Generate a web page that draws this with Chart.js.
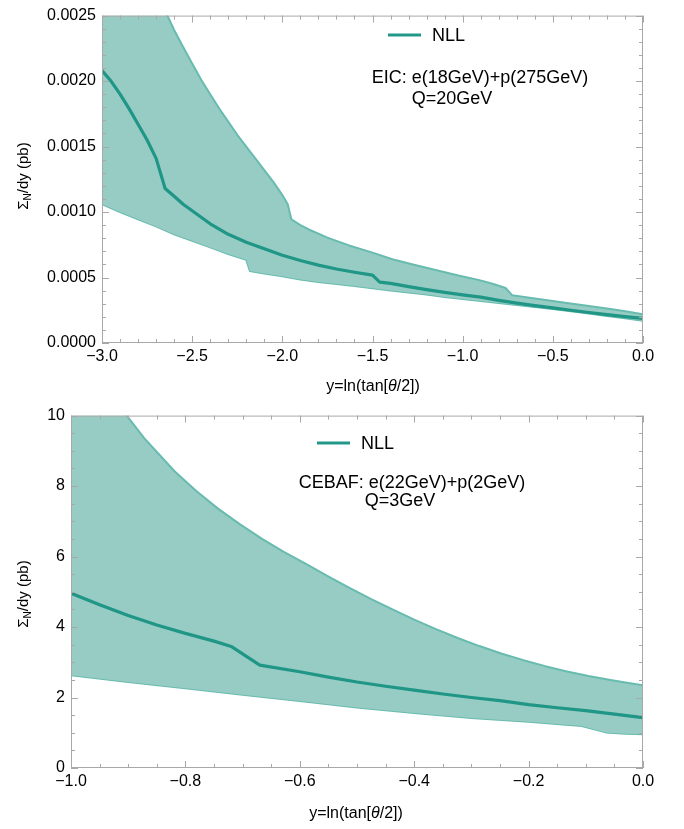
<!DOCTYPE html>
<html><head><meta charset="utf-8">
<script src="https://cdn.jsdelivr.net/npm/chart.js@4.4.0/dist/chart.umd.min.js"></script>
<style>
html,body{margin:0;padding:0;background:#fff;width:684px;height:829px;overflow:hidden;font-family:"Liberation Sans",Arial,sans-serif;color:#000;}
.wrap{position:absolute;left:0;width:684px;}
canvas{display:block;}
.ytitle{position:absolute;font-size:15px;transform:translate(-50%,-50%) rotate(-90deg);white-space:nowrap;}
.ytitle sub{font-size:10px;vertical-align:-3px;}
.xtitle{position:absolute;font-size:16px;transform:translate(-50%,-50%);white-space:nowrap;}
.leg{position:absolute;font-size:18px;display:flex;align-items:center;transform:translateY(-50%);white-space:nowrap;}
.leg .ln{display:inline-block;width:33px;height:3px;background:#22988a;margin-right:11px;}
.ann{position:absolute;font-size:18px;transform:translate(-50%,-50%);white-space:nowrap;}
</style></head>
<body>
<div class="wrap" style="top:0;height:400px"><canvas id="c1" width="684" height="400"></canvas></div>
<div class="wrap" style="top:400px;height:429px"><canvas id="c2" width="684" height="429"></canvas></div>

<div class="ytitle" style="left:23px;top:176px">Σ<sub>N</sub>/dy (pb)</div>
<div class="xtitle" style="left:373px;top:386px">y=ln(tan[<i>θ</i>/2])</div>
<div class="leg" style="left:388px;top:35px"><span class="ln"></span>NLL</div>
<div class="ann" style="left:480px;top:77px">EIC: e(18GeV)+p(275GeV)</div>
<div class="ann" style="left:452px;top:98px">Q=20GeV</div>

<div class="ytitle" style="left:23px;top:594px">Σ<sub>N</sub>/dy (pb)</div>
<div class="xtitle" style="left:356px;top:813px">y=ln(tan[<i>θ</i>/2])</div>
<div class="leg" style="left:317px;top:443px"><span class="ln"></span>NLL</div>
<div class="ann" style="left:412px;top:482px">CEBAF: e(22GeV)+p(2GeV)</div>
<div class="ann" style="left:400px;top:500px">Q=3GeV</div>

<script>
// ---------- Top panel (EIC) ----------
const eicCentralX = [-3.0, -2.95, -2.9, -2.85, -2.8, -2.75, -2.7, -2.65, -2.6, -2.55, -2.5, -2.45, -2.4, -2.35, -2.3, -2.25, -2.2, -2.1, -2.0, -1.9, -1.8, -1.7, -1.6, -1.5, -1.46, -1.4, -1.3, -1.2, -1.1, -1.0, -0.9, -0.8, -0.7, -0.6, -0.5, -0.4, -0.3, -0.2, -0.1, 0.0];
const eicCentralY = [0.00208, 0.00200, 0.00190, 0.00179, 0.00167, 0.00155, 0.00141, 0.00118, 0.00112, 0.00106, 0.00101, 0.00096, 0.00091, 0.00087, 0.00083, 0.0008, 0.00077, 0.00072, 0.00067, 0.00063, 0.000595, 0.000565, 0.00054, 0.000518, 0.000465, 0.000455, 0.00043, 0.000408, 0.000387, 0.000368, 0.00035, 0.000326, 0.000305, 0.000285, 0.000268, 0.00025, 0.000233, 0.000217, 0.000202, 0.000188];
const eicUpperX = [-3.0, -2.9, -2.8, -2.7, -2.637, -2.6, -2.55, -2.5, -2.45, -2.4, -2.35, -2.3, -2.25, -2.2, -2.15, -2.1, -2.05, -2.0, -1.97, -1.95, -1.9, -1.85, -1.8, -1.75, -1.7, -1.63, -1.5, -1.39, -1.27, -1.15, -1.03, -0.907, -0.83, -0.762, -0.726, -0.6, -0.5, -0.423, -0.3, -0.18, -0.09, 0.0];
const eicUpperY = [0.0041, 0.0036, 0.0032, 0.00275, 0.0025, 0.00239, 0.00226, 0.002135, 0.00201, 0.0019, 0.00179, 0.00169, 0.00159, 0.0015, 0.00141, 0.00132, 0.00123, 0.00113, 0.00106, 0.000945, 0.0009, 0.000865, 0.000835, 0.000805, 0.00078, 0.000745, 0.00069, 0.00064, 0.000597, 0.000558, 0.000518, 0.00048, 0.00045, 0.00042, 0.000365, 0.00034, 0.00032, 0.000306, 0.000283, 0.00026, 0.00024, 0.00022];
const eicLowerX = [-3.0, -2.9, -2.8, -2.7, -2.6, -2.5, -2.4, -2.3, -2.2, -2.18, -2.1, -2.0, -1.9, -1.8, -1.7, -1.6, -1.5, -1.4, -1.3, -1.2, -1.1, -1.0, -0.9, -0.8, -0.7, -0.6, -0.5, -0.4, -0.3, -0.2, -0.1, 0.0];
const eicLowerY = [0.00106, 0.00100, 0.000945, 0.00089, 0.00083, 0.00078, 0.00073, 0.00068, 0.000635, 0.00055, 0.00053, 0.00051, 0.000485, 0.000465, 0.00045, 0.000435, 0.000418, 0.0004, 0.000385, 0.00037, 0.000352, 0.000336, 0.00032, 0.000305, 0.00029, 0.000275, 0.00026, 0.000242, 0.000225, 0.000207, 0.000189, 0.00017];
const eicXTicks = [-3.0, -2.5, -2.0, -1.5, -1.0, -0.5, 0.0];
const eicYTicks = [0.0, 0.0005, 0.0010, 0.0015, 0.0020, 0.0025];

// ---------- Bottom panel (CEBAF) ----------
const cebCentralX = [-1.0, -0.95, -0.9, -0.85, -0.8, -0.75, -0.72, -0.67, -0.6, -0.55, -0.5, -0.45, -0.4, -0.35, -0.3, -0.25, -0.2, -0.15, -0.1, -0.05, 0.0];
const cebCentralY = [4.96, 4.63, 4.33, 4.06, 3.82, 3.60, 3.45, 2.92, 2.73, 2.58, 2.44, 2.32, 2.21, 2.10, 2.00, 1.91, 1.80, 1.71, 1.63, 1.53, 1.43];
const cebUpperX = [-1.0, -0.95, -0.9025, -0.872, -0.819, -0.781, -0.743, -0.705, -0.666, -0.628, -0.59, -0.552, -0.514, -0.476, -0.438, -0.4, -0.362, -0.324, -0.286, -0.248, -0.209, -0.171, -0.133, -0.095, -0.057, -0.028, 0.0];
const cebUpperY = [12.3, 11.1, 10.0, 9.36, 8.42, 7.86, 7.36, 6.92, 6.50, 6.13, 5.80, 5.45, 5.12, 4.80, 4.50, 4.21, 3.94, 3.69, 3.46, 3.25, 3.06, 2.89, 2.74, 2.61, 2.50, 2.42, 2.35];
const cebLowerX = [-1.0, -0.9, -0.8, -0.7, -0.6, -0.5, -0.4, -0.3, -0.2, -0.107, -0.065, -0.03, 0.0];
const cebLowerY = [2.63, 2.44, 2.26, 2.08, 1.90, 1.72, 1.56, 1.42, 1.31, 1.19, 1.01, 0.975, 0.96];
const cebXTicks = [-1.0, -0.8, -0.6, -0.4, -0.2, 0.0];
const cebYTicks = [0, 2, 4, 6, 8, 10];

const pts = (xs, ys) => xs.map((x, i) => ({x, y: ys[i]}));
const minus = s => s.replace('-', '\u2212');

const FILL = '#96ccc4', EDGE = '#68bbaf', LINE = '#1f9686', FRAME = '#a8a8a8';

const frameTicks = {
  id: 'frameTicks',
  afterDatasetsDraw(chart, args, o) {
    const {ctx, chartArea: a} = chart;
    const xs = chart.scales.x, ys = chart.scales.y;
    ctx.save();
    ctx.strokeStyle = FRAME; ctx.lineWidth = 1;
    ctx.strokeRect(a.left + 0.5, a.top + 0.5, a.right - a.left - 1, a.bottom - a.top - 1);
    ctx.beginPath();
    const nx = Math.round((xs.max - xs.min) / o.xMinor);
    for (let i = 0; i <= nx; i++) {
      const p = Math.round(xs.getPixelForValue(xs.min + i * o.xMinor)) + 0.5;
      const L = (i % o.xEvery === 0) ? 7 : 4;
      ctx.moveTo(p, a.bottom); ctx.lineTo(p, a.bottom - L);
      ctx.moveTo(p, a.top); ctx.lineTo(p, a.top + L);
    }
    const ny = Math.round((ys.max - ys.min) / o.yMinor);
    for (let i = 0; i <= ny; i++) {
      const p = Math.round(ys.getPixelForValue(ys.min + i * o.yMinor)) + 0.5;
      const L = (i % o.yEvery === 0) ? 7 : 4;
      ctx.moveTo(a.left, p); ctx.lineTo(a.left + L, p);
      ctx.moveTo(a.right, p); ctx.lineTo(a.right - L, p);
    }
    ctx.stroke();
    ctx.restore();
  }
};

function makeChart(id, cfg) {
  const common = {pointRadius: 0, tension: 0, clip: 0, borderJoinStyle: 'round'};
  return new Chart(document.getElementById(id), {
    type: 'line',
    data: {
      datasets: [
        Object.assign({label: 'NLL', data: cfg.central, borderColor: LINE, borderWidth: 3.2, fill: false}, common),
        Object.assign({label: 'upper', data: cfg.upper, borderColor: EDGE, borderWidth: 2, backgroundColor: FILL, fill: '+1'}, common),
        Object.assign({label: 'lower', data: cfg.lower, borderColor: EDGE, borderWidth: 2, fill: false}, common)
      ]
    },
    options: {
      responsive: false,
      animation: false,
      events: [],
      layout: {padding: {top: cfg.top, right: cfg.right, left: 0, bottom: 0}},
      plugins: {legend: {display: false}, tooltip: {enabled: false}, frameTicks: cfg.ticks},
      scales: {
        x: {
          type: 'linear', min: cfg.xTicks[0], max: cfg.xTicks[cfg.xTicks.length - 1],
          afterBuildTicks: s => { s.ticks = cfg.xTicks.map(v => ({value: v})); },
          afterFit: s => { s.height = cfg.bottomH; },
          grid: {display: false, drawTicks: false},
          border: {display: false},
          ticks: {color: '#000', padding: 4, maxRotation: 0, autoSkip: false, font: {family: 'Liberation Sans', size: 16},
                  callback: v => minus(Number(v).toFixed(1))}
        },
        y: {
          type: 'linear', min: cfg.yTicks[0], max: cfg.yTicks[cfg.yTicks.length - 1],
          afterBuildTicks: s => { s.ticks = cfg.yTicks.map(v => ({value: v})); },
          afterFit: s => { s.width = cfg.leftW; },
          grid: {display: false, drawTicks: false},
          border: {display: false},
          ticks: {color: '#000', padding: 6, autoSkip: false, font: {family: 'Liberation Sans', size: 16},
                  callback: v => Number(v).toFixed(cfg.yDec)}
        }
      }
    },
    plugins: [frameTicks]
  });
}

makeChart('c1', {
  central: pts(eicCentralX, eicCentralY), upper: pts(eicUpperX, eicUpperY), lower: pts(eicLowerX, eicLowerY),
  xTicks: eicXTicks, yTicks: eicYTicks, yDec: 4,
  top: 9, right: 41, leftW: 102, bottomH: 57,
  ticks: {xMinor: 0.1, xEvery: 5, yMinor: 0.0001, yEvery: 5}
});
makeChart('c2', {
  central: pts(cebCentralX, cebCentralY), upper: pts(cebUpperX, cebUpperY), lower: pts(cebLowerX, cebLowerY),
  xTicks: cebXTicks, yTicks: cebYTicks, yDec: 0,
  top: 14, right: 41, leftW: 71, bottomH: 61,
  ticks: {xMinor: 0.05, xEvery: 4, yMinor: 0.5, yEvery: 4}
});
</script>
</body></html>
